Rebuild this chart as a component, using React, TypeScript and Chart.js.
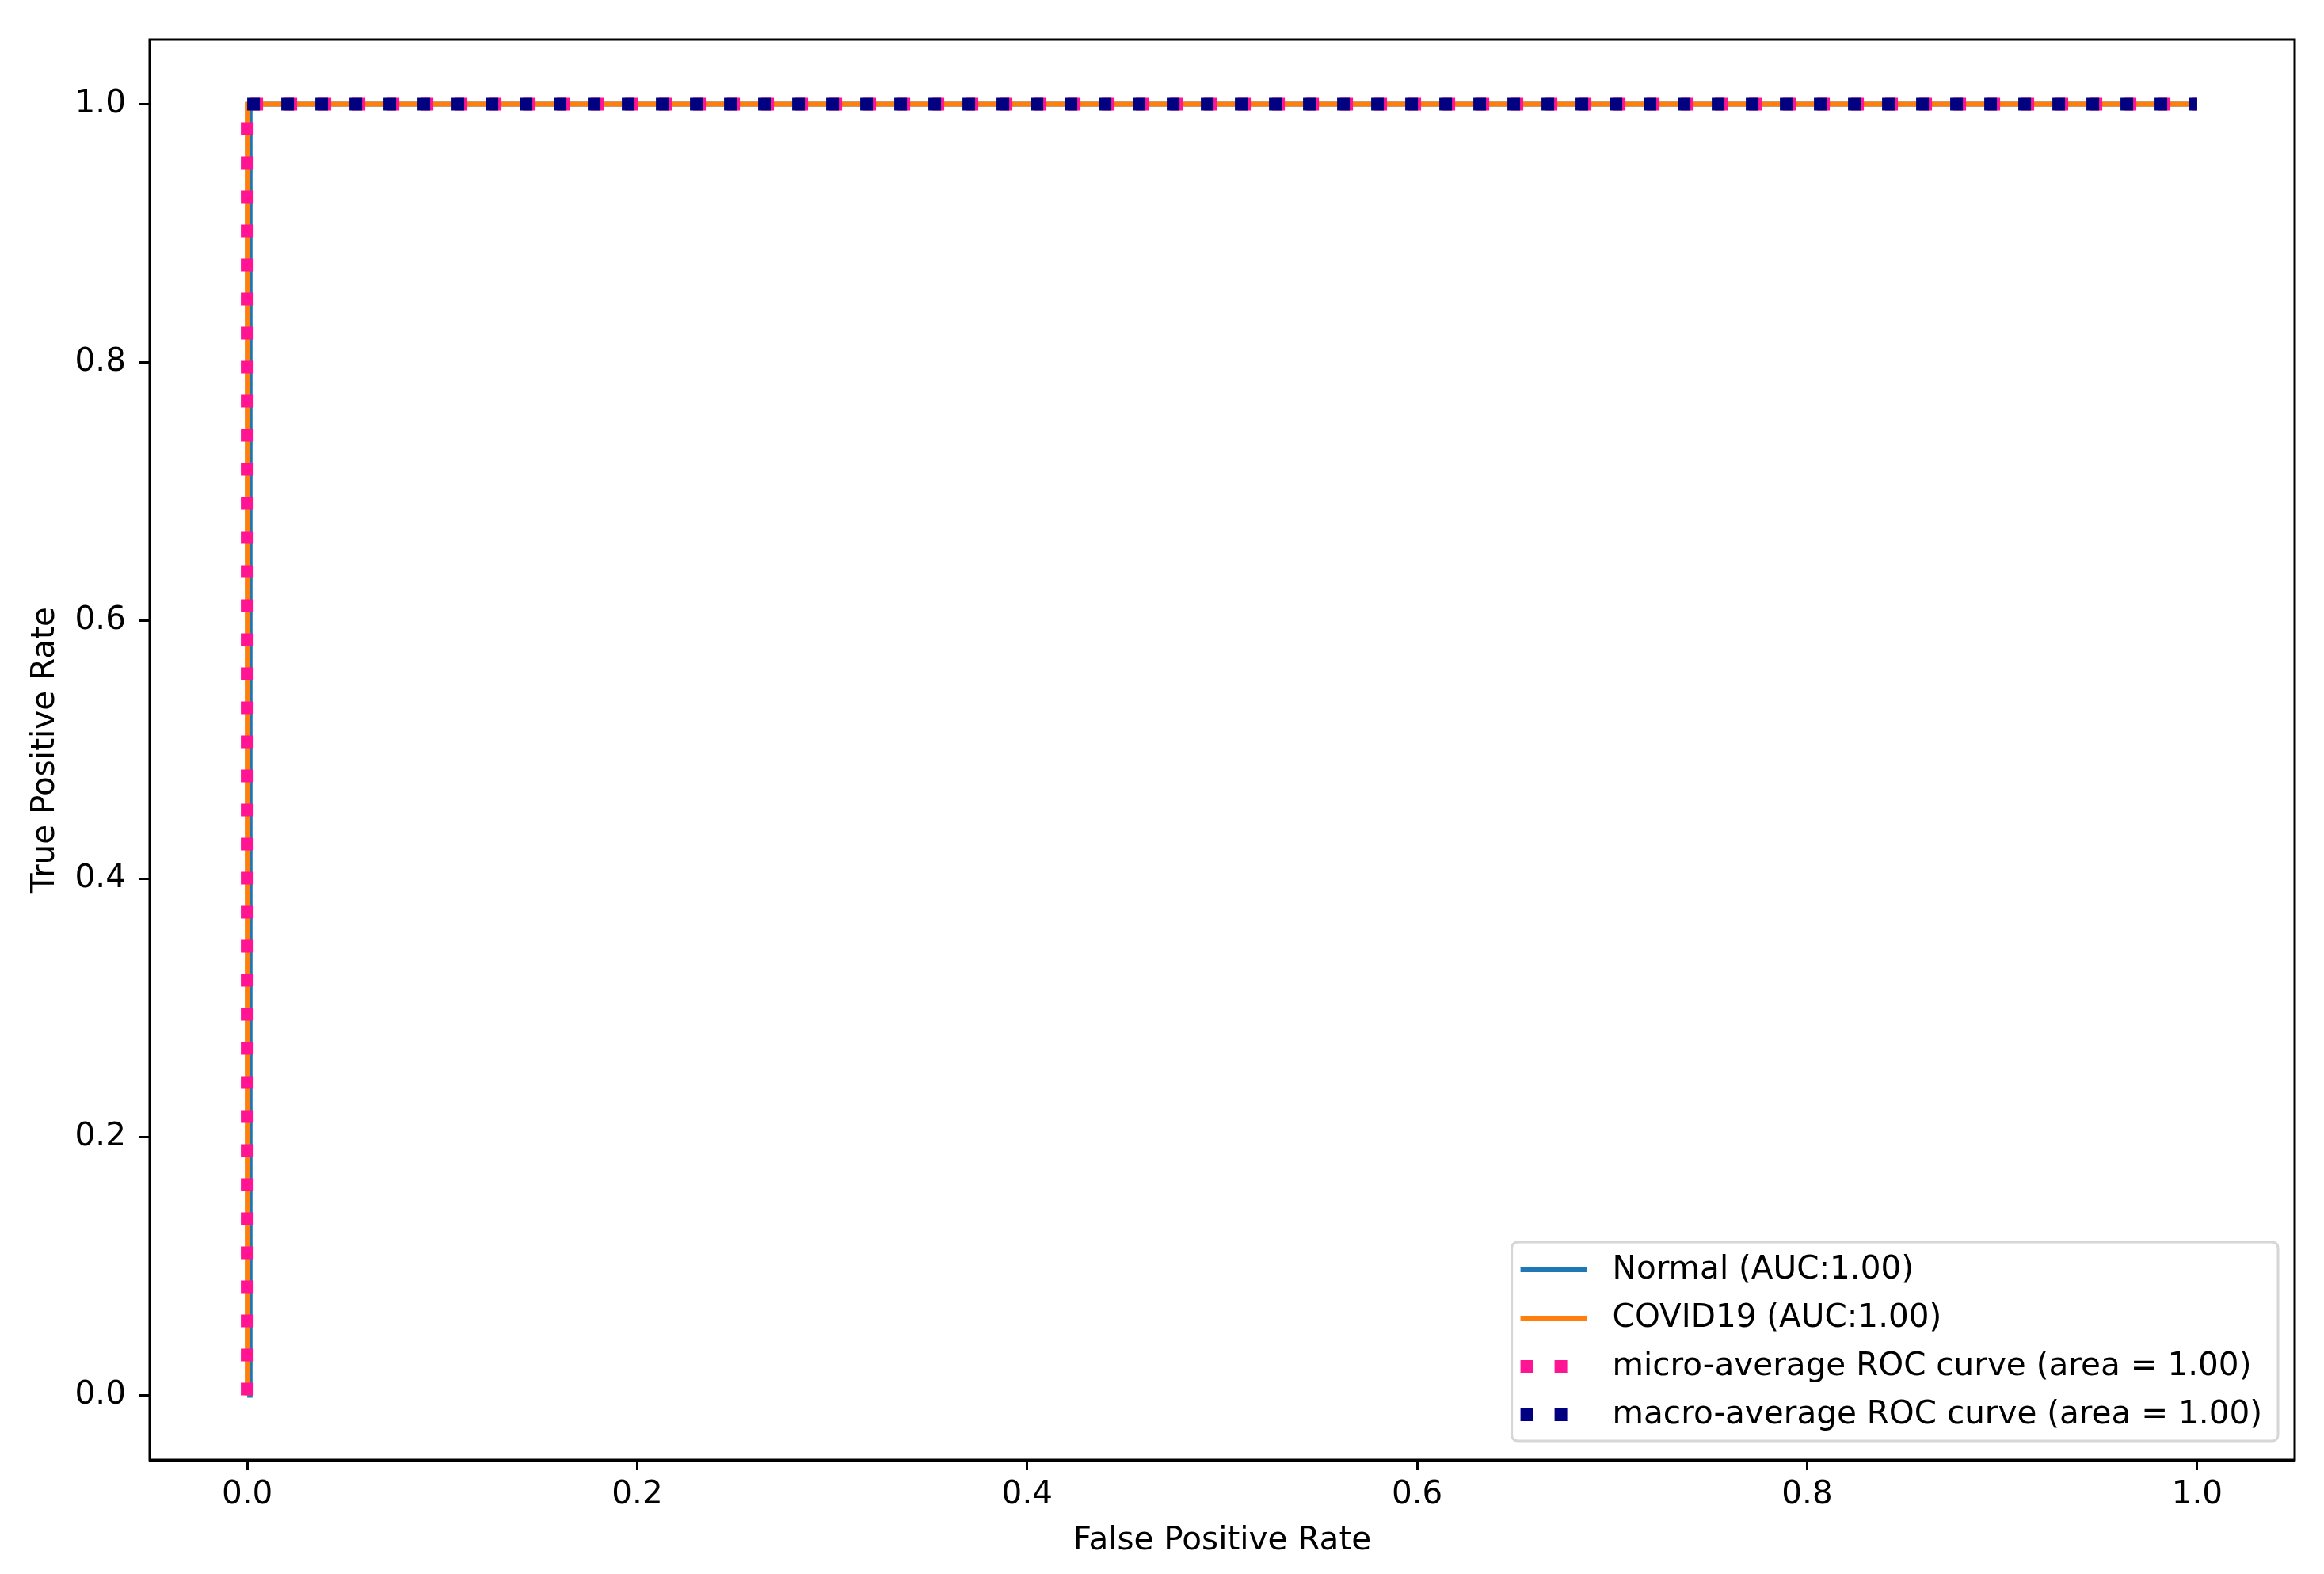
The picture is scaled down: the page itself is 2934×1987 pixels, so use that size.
import React, { useEffect, useRef } from "react";
import { Chart, registerables } from "chart.js";

Chart.register(...registerables);

// ---- Data ----
const seriesLabels = [
  "Normal (AUC:1.00)",
  "COVID19 (AUC:1.00)",
  "micro-average ROC curve (area = 1.00)",
  "macro-average ROC curve (area = 1.00)",
];
const fprNormal = [0, 0.0015, 0.0015, 1];
const tprNormal = [0, 0, 1, 1];
const fprCovid = [0, 0, 1];
const tprCovid = [0, 1, 1];
const fprMicro = [0, 0, 1];
const tprMicro = [0, 1, 1];
const fprMacro = [0, 1];
const tprMacro = [1, 1];
const xTicks = [0, 0.2, 0.4, 0.6, 0.8, 1.0];
const yTicks = [0, 0.2, 0.4, 0.6, 0.8, 1.0];
const xTitle = "False Positive Rate";
const yTitle = "True Positive Rate";

const W = 2934;
const H = 1987;
const FONT = "DejaVu Sans";
const FS = 40.5;
const LFS = 40.5;

const toPts = (xs: number[], ys: number[]) => xs.map((x, i) => ({ x, y: ys[i] }));

const framePlugin = {
  id: "frame",
  afterDatasetsDraw(chart: any) {
    const { ctx, chartArea: a } = chart;
    ctx.save();
    ctx.strokeStyle = "#000";
    ctx.lineWidth = 3;
    ctx.strokeRect(a.left, a.top, a.right - a.left, a.bottom - a.top);
    ctx.restore();
  },
};

const legendPlugin = {
  id: "mplLegend",
  afterDraw(chart: any) {
    const { ctx, chartArea: a } = chart;
    const ds = chart.data.datasets;
    const items = [0, 1, 2, 3].map((i) => ds.find((d: any) => d.legendIndex === i));
    ctx.save();
    ctx.font = `${LFS}px "${FONT}"`;
    const maxW = Math.max(...items.map((d: any) => ctx.measureText(d.label).width));
    const textOff = 127;
    const boxW = textOff + maxW + 20;
    const boxH = 251;
    const right = a.right - 21;
    const bottom = a.bottom - 24;
    const left = right - boxW;
    const top = bottom - boxH;
    const r = 8;
    ctx.beginPath();
    ctx.moveTo(left + r, top);
    ctx.lineTo(right - r, top);
    ctx.quadraticCurveTo(right, top, right, top + r);
    ctx.lineTo(right, bottom - r);
    ctx.quadraticCurveTo(right, bottom, right - r, bottom);
    ctx.lineTo(left + r, bottom);
    ctx.quadraticCurveTo(left, bottom, left, bottom - r);
    ctx.lineTo(left, top + r);
    ctx.quadraticCurveTo(left, top, left + r, top);
    ctx.closePath();
    ctx.fillStyle = "rgba(255,255,255,0.8)";
    ctx.fill();
    ctx.strokeStyle = "#d6d6d6";
    ctx.lineWidth = 3;
    ctx.stroke();
    items.forEach((d: any, i: number) => {
      const cy = top + 35 + i * 61;
      ctx.beginPath();
      ctx.strokeStyle = d.borderColor;
      ctx.lineWidth = d.borderWidth;
      ctx.lineCap = "butt";
      ctx.setLineDash(d.borderDash || []);
      ctx.moveTo(left + 11, cy);
      ctx.lineTo(left + 95, cy);
      ctx.stroke();
      ctx.setLineDash([]);
      ctx.fillStyle = "#000";
      ctx.textBaseline = "middle";
      ctx.textAlign = "left";
      ctx.fillText(d.label, left + textOff, cy);
    });
    ctx.restore();
  },
};

export default function App() {
  const ref = useRef<HTMLCanvasElement | null>(null);
  useEffect(() => {
    if (!ref.current) return;
    const tickFont = { family: FONT, size: FS };
    const chart = new Chart(ref.current, {
      type: "scatter",
      data: {
        datasets: [
          {
            label: seriesLabels[0],
            legendIndex: 0,
            data: toPts(fprNormal, tprNormal),
            borderColor: "#1f77b4",
            backgroundColor: "#1f77b4",
            borderWidth: 6,
            showLine: true,
            pointRadius: 0,
            order: 3,
          },
          {
            label: seriesLabels[1],
            legendIndex: 1,
            data: toPts(fprCovid, tprCovid),
            borderColor: "#ff7f0e",
            backgroundColor: "#ff7f0e",
            borderWidth: 6,
            showLine: true,
            pointRadius: 0,
            order: 2,
          },
          {
            label: seriesLabels[2],
            legendIndex: 2,
            data: toPts(fprMicro, tprMicro),
            borderColor: "#ff1493",
            backgroundColor: "#ff1493",
            borderWidth: 16,
            borderDash: [16, 27],
            borderCapStyle: "butt",
            showLine: true,
            pointRadius: 0,
            order: 1,
          },
          {
            label: seriesLabels[3],
            legendIndex: 3,
            data: toPts(fprMacro, tprMacro),
            borderColor: "#000080",
            backgroundColor: "#000080",
            borderWidth: 16,
            borderDash: [16, 27],
            borderCapStyle: "butt",
            showLine: true,
            pointRadius: 0,
            order: 0,
          },
        ] as any,
      },
      options: {
        animation: false,
        responsive: false,
        events: [],
        layout: { padding: { left: 0, top: 50, right: 37, bottom: 0 } },
        plugins: { legend: { display: false }, tooltip: { enabled: false } },
        scales: {
          x: {
            type: "linear",
            min: -0.05,
            max: 1.05,
            afterBuildTicks: (s: any) => {
              s.ticks = xTicks.map((v) => ({ value: v }));
            },
            afterFit: (s: any) => {
              s.height = 144;
            },
            grid: {
              drawOnChartArea: false,
              drawTicks: true,
              tickLength: 13,
              tickWidth: 3,
              tickColor: "#000",
            },
            border: { display: true, color: "#000", width: 3 },
            ticks: {
              color: "#000",
              font: tickFont,
              padding: 7,
              maxRotation: 0,
              autoSkip: false,
              callback: (v: any) => Number(v).toFixed(1),
            },
            title: {
              display: true,
              text: xTitle,
              color: "#000",
              font: tickFont,
              padding: { top: 0, bottom: 17 },
            },
          },
          y: {
            type: "linear",
            min: -0.05,
            max: 1.05,
            afterBuildTicks: (s: any) => {
              s.ticks = yTicks.map((v) => ({ value: v }));
            },
            afterFit: (s: any) => {
              s.width = 189;
            },
            grid: {
              drawOnChartArea: false,
              drawTicks: true,
              tickLength: 13,
              tickWidth: 3,
              tickColor: "#000",
            },
            border: { display: true, color: "#000", width: 3 },
            ticks: {
              color: "#000",
              font: tickFont,
              padding: 17,
              autoSkip: false,
              callback: (v: any) => Number(v).toFixed(1),
            },
            title: {
              display: true,
              text: yTitle,
              color: "#000",
              font: tickFont,
              padding: { top: 33, bottom: 0 },
            },
          },
        },
      } as any,
      plugins: [framePlugin, legendPlugin],
    });
    return () => chart.destroy();
  }, []);
  return (
    <div style={{ position: "absolute", left: 0, top: 0, width: W, height: H, background: "#fff" }}>
      <canvas ref={ref} width={W} height={H} style={{ width: W, height: H, display: "block" }} />
    </div>
  );
}
